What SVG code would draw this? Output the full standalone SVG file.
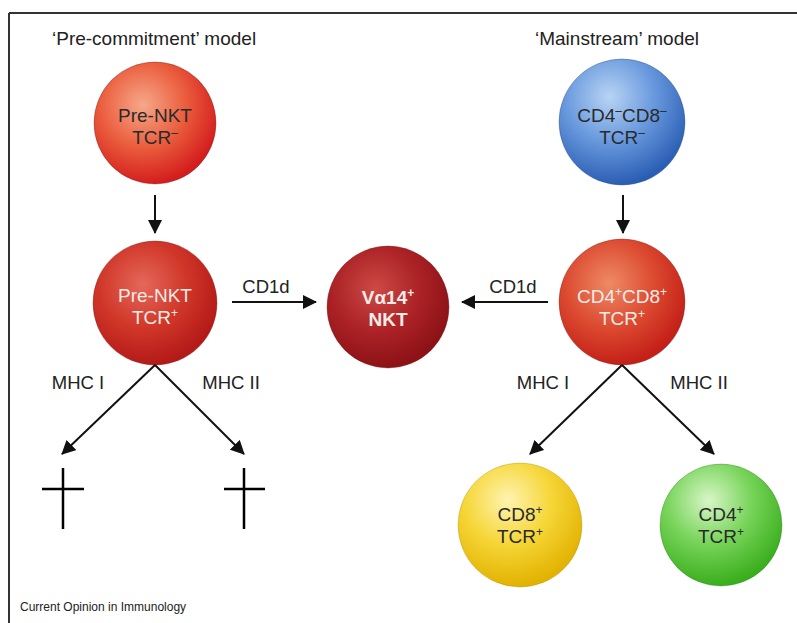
<svg xmlns="http://www.w3.org/2000/svg" width="797" height="623" viewBox="0 0 797 623">
<style>
.t{font-family:"Liberation Sans",Arial,sans-serif;font-size:19px;fill:#222;}
.l{font-family:"Liberation Sans",Arial,sans-serif;font-size:18.5px;fill:#222;text-anchor:middle;}
.c{font-family:"Liberation Sans",Arial,sans-serif;font-size:19px;text-anchor:middle;}
.dk{fill:#2a2a2a;}
.wt{fill:#f4ece8;}
.ln{stroke:#111;stroke-width:2;fill:none;}
.cr{stroke:#000;stroke-width:2.5;fill:none;}
.rim{stroke:#7a2020;stroke-width:0.8;stroke-opacity:0.5;}
</style>
<defs>
<marker id="ah" viewBox="0 0 14 14" refX="13" refY="7" markerWidth="14" markerHeight="14" markerUnits="userSpaceOnUse" orient="auto">
<path d="M0,0 L14,7 L0,14 z" fill="#111"/>
</marker>
<radialGradient id="gOr" cx="0.4" cy="0.35" r="0.65">
<stop offset="0" stop-color="#f6a88a"/><stop offset="0.55" stop-color="#ea5c3c"/><stop offset="1" stop-color="#d41e1e"/>
</radialGradient>
<radialGradient id="gRd" cx="0.4" cy="0.35" r="0.65">
<stop offset="0" stop-color="#e4685a"/><stop offset="0.55" stop-color="#d03628"/><stop offset="1" stop-color="#b41a18"/>
</radialGradient>
<radialGradient id="gDr" cx="0.4" cy="0.35" r="0.65">
<stop offset="0" stop-color="#cc4a46"/><stop offset="0.55" stop-color="#ac2226"/><stop offset="1" stop-color="#8c1216"/>
</radialGradient>
<radialGradient id="gRo" cx="0.4" cy="0.35" r="0.65">
<stop offset="0" stop-color="#ee8a66"/><stop offset="0.55" stop-color="#dc4a30"/><stop offset="1" stop-color="#c42018"/>
</radialGradient>
<radialGradient id="gBl" cx="0.4" cy="0.3" r="0.7">
<stop offset="0" stop-color="#b8d4f4"/><stop offset="0.5" stop-color="#6a9ade"/><stop offset="1" stop-color="#2a5eb4"/>
</radialGradient>
<radialGradient id="gYe" cx="0.4" cy="0.3" r="0.7">
<stop offset="0" stop-color="#fff4b0"/><stop offset="0.5" stop-color="#f6d638"/><stop offset="1" stop-color="#e2b200"/>
</radialGradient>
<radialGradient id="gGr" cx="0.4" cy="0.3" r="0.7">
<stop offset="0" stop-color="#d8f6c8"/><stop offset="0.5" stop-color="#78d45a"/><stop offset="1" stop-color="#3aae1c"/>
</radialGradient>
</defs>
<rect width="797" height="623" fill="#fff"/>
<g id="frame">
<line x1="9" y1="13" x2="797" y2="13" stroke="#333" stroke-width="2"/>
<line x1="9" y1="13" x2="9" y2="623" stroke="#333" stroke-width="2"/>
</g>
<g id="titles">
<text class="t" x="52" y="45">‘Pre-commitment’ model</text>
<text class="t" x="535" y="45">‘Mainstream’ model</text>
<text x="20" y="611" style="font-family:'Liberation Sans',Arial,sans-serif;font-size:12px;fill:#222">Current Opinion in Immunology</text>
</g>
<g id="n_prenkt_neg">
<circle cx="155" cy="123" r="61" fill="url(#gOr)" class="rim"/>
<text class="c dk" x="155" y="122">Pre-NKT</text>
<text class="c dk" x="155" y="144">TCR<tspan dy="-7" font-size="12">–</tspan></text>
</g>
<g id="n_prenkt_pos">
<circle cx="155" cy="303" r="62" fill="url(#gRd)" class="rim"/>
<text class="c wt" x="155" y="302">Pre-NKT</text>
<text class="c wt" x="155" y="324">TCR<tspan dy="-7" font-size="12">+</tspan></text>
</g>
<g id="n_nkt">
<circle cx="388" cy="307" r="61" fill="url(#gDr)" class="rim"/>
<text class="c wt" x="388" y="304" font-weight="bold">Vα14<tspan dy="-7" font-size="12">+</tspan></text>
<text class="c wt" x="388" y="326" font-weight="bold">NKT</text>
</g>
<g id="n_dn">
<circle cx="622" cy="122" r="63" fill="url(#gBl)" stroke="#2a4a80" stroke-width="0.8" stroke-opacity="0.5"/>
<text class="c dk" x="622" y="122">CD4<tspan dy="-7" font-size="12">–</tspan><tspan dy="7">CD8</tspan><tspan dy="-7" font-size="12">–</tspan></text>
<text class="c dk" x="622" y="144">TCR<tspan dy="-7" font-size="12">–</tspan></text>
</g>
<g id="n_dp">
<circle cx="622" cy="302" r="63" fill="url(#gRo)" class="rim"/>
<text class="c wt" x="622" y="303">CD4<tspan dy="-7" font-size="12">+</tspan><tspan dy="7">CD8</tspan><tspan dy="-7" font-size="12">+</tspan></text>
<text class="c wt" x="622" y="325">TCR<tspan dy="-7" font-size="12">+</tspan></text>
</g>
<g id="n_cd8">
<circle cx="520" cy="525" r="62" fill="url(#gYe)" stroke="#a08000" stroke-width="0.8" stroke-opacity="0.4"/>
<text class="c dk" x="520" y="521">CD8<tspan dy="-7" font-size="12">+</tspan></text>
<text class="c dk" x="520" y="543">TCR<tspan dy="-7" font-size="12">+</tspan></text>
</g>
<g id="n_cd4">
<circle cx="721" cy="525" r="61" fill="url(#gGr)" stroke="#207010" stroke-width="0.8" stroke-opacity="0.4"/>
<text class="c dk" x="721" y="521">CD4<tspan dy="-7" font-size="12">+</tspan></text>
<text class="c dk" x="721" y="543">TCR<tspan dy="-7" font-size="12">+</tspan></text>
</g>
<g id="n_death1">
<line class="cr" x1="63" y1="468" x2="63" y2="529"/>
<line class="cr" x1="42" y1="489" x2="84" y2="489"/>
</g>
<g id="n_death2">
<line class="cr" x1="244" y1="468" x2="244" y2="529"/>
<line class="cr" x1="224" y1="489" x2="265" y2="489"/>
</g>
<g id="connectors">
<line class="ln" x1="155" y1="195" x2="155" y2="233" marker-end="url(#ah)"/>
<line class="ln" x1="623" y1="195" x2="623" y2="233" marker-end="url(#ah)"/>
<line class="ln" x1="232" y1="302" x2="316" y2="302" marker-end="url(#ah)"/>
<line class="ln" x1="548" y1="302" x2="462" y2="302" marker-end="url(#ah)"/>
<line class="ln" x1="155" y1="365" x2="62" y2="454" marker-end="url(#ah)"/>
<line class="ln" x1="155" y1="365" x2="244" y2="454" marker-end="url(#ah)"/>
<line class="ln" x1="622" y1="365" x2="530" y2="454" marker-end="url(#ah)"/>
<line class="ln" x1="622" y1="365" x2="714" y2="454" marker-end="url(#ah)"/>
<text class="l" x="266" y="293">CD1d</text>
<text class="l" x="513" y="293">CD1d</text>
<text class="l" x="78" y="389">MHC I</text>
<text class="l" x="231" y="389">MHC II</text>
<text class="l" x="543" y="389">MHC I</text>
<text class="l" x="699" y="389">MHC II</text>
</g>
</svg>
